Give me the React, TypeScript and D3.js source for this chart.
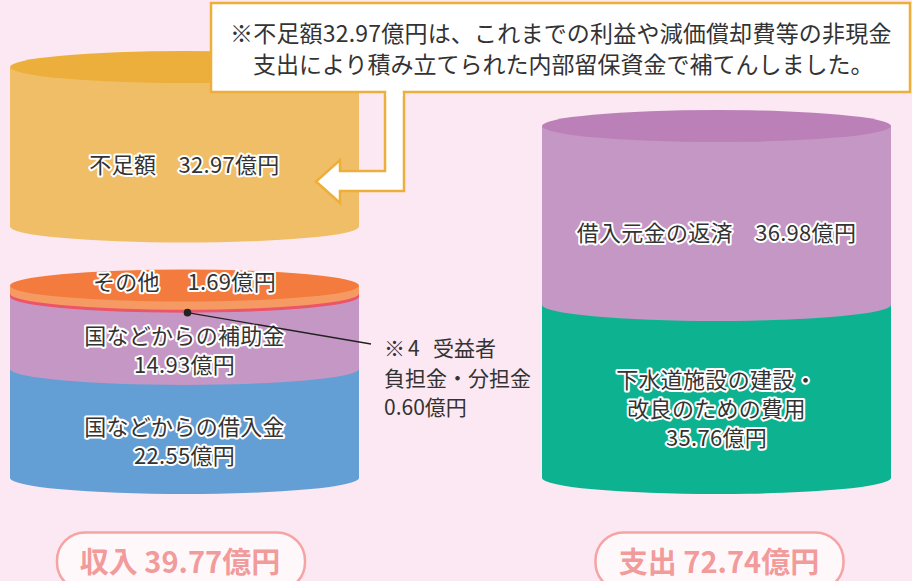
import React from "react";
import * as d3 from "d3";

// ---- data ----
const incomeLabels = ["国などからの借入金", "国などからの補助金", "受益者負担金・分担金", "その他"];
const incomeValues = [22.55, 14.93, 0.6, 1.69];
const incomeColors = ["#639FD4", "#C597C5", "#EC5468", "#F59A62"];
const deficitValue = 32.97;
const expenseLabels = ["下水道施設の建設・改良のための費用", "借入元金の返済"];
const expenseValues = [35.76, 36.98];
const expenseColors = ["#0DB391", "#C597C5"];
const totalIncome = 39.77;
const totalExpense = 72.74;

const W = 912;
const H = 581;
const FONT = "'Noto Sans CJK JP', 'Noto Sans', sans-serif";

const y = d3.scaleLinear().domain([0, totalExpense]).range([478, 126]);
const RX = 174.5;
const RY = 16;
const leftCx = 184.5;
const rightCx = 716.5;
const GAP = 59;

function bodyPath(cx: number, yTop: number, yBot: number) {
  return `M${cx - RX},${yTop} L${cx - RX},${yBot} A${RX},${RY} 0 0 0 ${cx + RX},${yBot} L${cx + RX},${yTop} Z`;
}

function stack(values: number[], base = 0) {
  let acc = base;
  return values.map((v) => {
    const s = { y0: acc, y1: acc + v };
    acc += v;
    return s;
  });
}

const Halo = ({ x, yy, children, size = 22 }: any) => (
  <text
    x={x}
    y={yy}
    textAnchor="middle"
    dominantBaseline="central"
    fontFamily={FONT}
    fontSize={size}
    fill="#333"
    stroke="#fff"
    strokeWidth={4}
    strokeLinejoin="round"
    paintOrder="stroke"
    letterSpacing={0.3}
    style={{ whiteSpace: "pre" }}
  >
    {children}
  </text>
);

export default function App() {
  const inc = stack(incomeValues);
  const exp = stack(expenseValues);
  const defTop = y(totalIncome + deficitValue) - GAP;
  const defBot = y(totalIncome) - GAP;
  const LH = 29;

  const segMid = (s: { y0: number; y1: number }) => (y(s.y0) + y(s.y1)) / 2 + RY;

  const dotY = y(inc[2].y0) + RY;

  return (
    <svg
      width={W}
      height={H}
      style={{ position: "absolute", left: 0, top: 0, display: "block" }}
    >
      <rect x={0} y={0} width={W} height={H} fill="#FCE8F2" />

      {/* deficit cylinder */}
      <path d={bodyPath(leftCx, defTop, defBot)} fill="#F0BE66" />
      <ellipse cx={leftCx} cy={defTop} rx={RX} ry={RY} fill="#EDAF3B" />

      {/* income cylinder */}
      {inc.map((s, i) => (
        <path key={i} d={bodyPath(leftCx, y(s.y1), y(s.y0))} fill={incomeColors[i]} />
      ))}
      <ellipse cx={leftCx} cy={y(totalIncome)} rx={RX} ry={RY} fill="#F27B3D" />

      {/* expense cylinder */}
      {exp.map((s, i) => (
        <path key={i} d={bodyPath(rightCx, y(s.y1), y(s.y0))} fill={expenseColors[i]} />
      ))}
      <ellipse cx={rightCx} cy={y(totalExpense)} rx={RX} ry={RY} fill="#BC80B8" />

      {/* callout arrow + box */}
      <path
        d="M385,90 L385,171 L340,171 L340,160 L316,181.5 L340,203 L340,191 L404,191 L404,90 Z"
        fill="#fff"
        stroke="#EEAE3A"
        strokeWidth={2.5}
        strokeLinejoin="miter"
      />
      <rect x={211} y={3} width={699} height={89} fill="#fff" stroke="#EEAE3A" strokeWidth={2.5} />
      <rect x={386.3} y={88} width={16.4} height={8} fill="#fff" />
      <text x={230} y={42} fontFamily={FONT} fontSize={23} fill="#333" letterSpacing={0.2}>
        ※不足額32.97億円は、これまでの利益や減価償却費等の非現金
      </text>
      <text x={253} y={73} fontFamily={FONT} fontSize={23} fill="#333">
        支出により積み立てられた内部留保資金で補てんしました。
      </text>

      {/* labels in cylinders */}
      <Halo x={leftCx} yy={(defTop + defBot) / 2 + RY}>{`不足額　${deficitValue.toFixed(2)}億円`}</Halo>
      <Halo x={leftCx} yy={y(totalIncome) - 6}>{`${incomeLabels[3]}　 ${incomeValues[3].toFixed(2)}億円`}</Halo>
      <Halo x={leftCx} yy={segMid(inc[1]) - LH / 2}>{incomeLabels[1]}</Halo>
      <Halo x={leftCx} yy={segMid(inc[1]) + LH / 2}>{`${incomeValues[1].toFixed(2)}億円`}</Halo>
      <Halo x={leftCx} yy={segMid(inc[0]) - LH / 2}>{incomeLabels[0]}</Halo>
      <Halo x={leftCx} yy={segMid(inc[0]) + LH / 2}>{`${incomeValues[0].toFixed(2)}億円`}</Halo>

      <Halo x={rightCx} yy={segMid(exp[1])}>{`${expenseLabels[1]}　${expenseValues[1].toFixed(2)}億円`}</Halo>
      <Halo x={rightCx} yy={segMid(exp[0]) - LH}>下水道施設の建設・</Halo>
      <Halo x={rightCx} yy={segMid(exp[0])}>改良のための費用</Halo>
      <Halo x={rightCx} yy={segMid(exp[0]) + LH}>{`${expenseValues[0].toFixed(2)}億円`}</Halo>

      {/* annotation for small segment */}
      <line x1={leftCx + 3} y1={dotY} x2={371} y2={344} stroke="#222" strokeWidth={1.3} />
      <circle cx={leftCx + 3} cy={dotY} r={3.8} fill="#222" />
      <g fontFamily={FONT} fontSize={21} fill="#333">
        <text y={356}>
          <tspan x={384}>※</tspan>
          <tspan x={408}>4</tspan>
          <tspan x={433}>受益者</tspan>
        </text>
        <text x={384} y={386}>負担金・分担金</text>
        <text x={384} y={415}>{`${incomeValues[2].toFixed(2)}億円`}</text>
      </g>

      {/* totals pills */}
      <rect x={57} y={532.5} width={248} height={58} rx={28} fill="#FFF8FB" stroke="#F5A3A3" strokeWidth={2.5} />
      <text x={180} y={572.5} textAnchor="middle" fontFamily={FONT} fontSize={29} fontWeight={700} fill="#F29B9B" style={{ whiteSpace: "pre" }}>
        {`収入 ${totalIncome.toFixed(2)}億円`}
      </text>
      <rect x={595.5} y={532.5} width={248} height={58} rx={28} fill="#FFF8FB" stroke="#F5A3A3" strokeWidth={2.5} />
      <text x={719} y={572.5} textAnchor="middle" fontFamily={FONT} fontSize={29} fontWeight={700} fill="#F29B9B" style={{ whiteSpace: "pre" }}>
        {`支出 ${totalExpense.toFixed(2)}億円`}
      </text>
    </svg>
  );
}
